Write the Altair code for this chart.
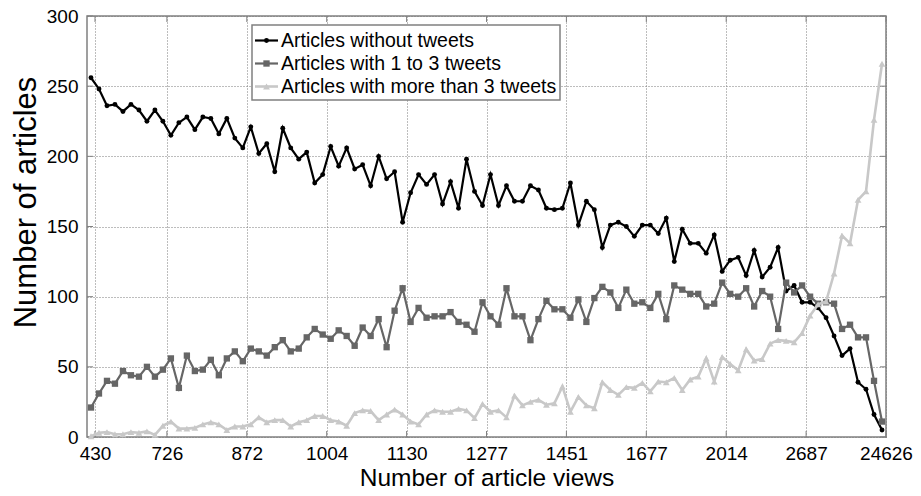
import altair as alt
import pandas as pd

# ---------------- data ----------------
tick_positions = [1, 10, 20, 30, 40, 50, 60, 70, 80, 90, 100]
tick_labels = ["430", "726", "872", "1004", "1130", "1277", "1451", "1677", "2014", "2687", "24626"]
y_ticks = [0, 50, 100, 150, 200, 250, 300]

series_names = [
    "Articles without tweets",
    "Articles with 1 to 3 tweets",
    "Articles with more than 3 tweets",
]

black = [256, 248, 236, 237, 232, 237, 233, 225, 233, 225,
         215, 224, 228, 219, 228, 227, 216, 227, 213, 206,
         221, 202, 209, 189, 220, 206, 198, 203, 181, 187,
         207, 193, 206, 191, 194, 179, 200, 184, 189, 153,
         174, 187, 180, 187, 166, 182, 163, 198, 175, 165,
         187, 165, 179, 168, 168, 179, 176, 163, 162, 163,
         181, 151, 168, 162, 135, 151, 153, 150, 143, 151,
         151, 145, 156, 125, 148, 138, 138, 131, 144, 118,
         126, 128, 115, 133, 114, 121, 135, 104, 108, 96,
         96, 92, 85, 72, 58, 63, 39, 34, 16, 5]

gray = [21, 31, 40, 38, 47, 44, 43, 50, 43, 48,
        56, 35, 58, 47, 48, 55, 44, 56, 61, 54,
        63, 61, 58, 64, 69, 61, 63, 71, 77, 73,
        70, 76, 72, 65, 78, 72, 84, 64, 90, 106,
        82, 92, 85, 86, 86, 89, 82, 80, 75, 96,
        86, 80, 106, 86, 86, 69, 84, 97, 91, 91,
        85, 98, 82, 99, 107, 103, 92, 105, 95, 96,
        92, 102, 84, 108, 105, 102, 102, 93, 95, 110,
        102, 100, 106, 93, 104, 100, 77, 110, 103, 108,
        100, 95, 96, 95, 77, 80, 71, 71, 40, 11]

light = [0.5, 3, 3.5, 2, 2, 3.5, 3, 4, 1.5, 8,
         11, 6, 6, 6.5, 9, 10.5, 9, 5, 7.5, 7.5,
         9, 14, 10.5, 12, 12, 7.5, 10.5, 12, 15, 15,
         12, 11, 8, 17, 19, 18.5, 12, 16, 19.5, 16,
         11, 9, 16, 19, 18, 18, 20, 19, 13.5, 23.5,
         18, 19, 14, 29.5, 22.5, 25, 26.5, 23, 24, 36,
         18, 28.5, 22.5, 20.5, 39, 33.5, 30, 35.5, 35, 38.5,
         32.5, 39.5, 39, 42, 33.5, 41, 43, 56, 39.5, 57,
         52, 47.5, 62.5, 54.5, 55.5, 66.5, 69, 68.5, 67.5, 74,
         86.5, 94.5, 96.5, 116.5, 143.5, 138, 169, 175, 226, 266]

# ---------------- style ----------------
W, H = 799, 421
FONT = "Liberation Sans"
colors = ["#000000", "#666666", "#c8c8c8"]
shapes = ["circle", "square", "triangle-up"]
sizes = [24, 40, 46]
widths = [2.2, 2.2, 2.6]

label_expr = " : ".join(
    f"datum.value == {p} ? '{l}'" for p, l in zip(tick_positions, tick_labels)
) + " : ''"

x_axis = alt.Axis(values=tick_positions, labelExpr=label_expr,
                  title="Number of article views", titleFontSize=24.5,
                  labelPadding=7, labelFlush=False,
                  titleX=W / 2, titleY=48, titleBaseline="alphabetic", titleAlign="center")
y_axis = alt.Axis(values=y_ticks, title="Number of articles", titleFontSize=31,
                  labelPadding=9, titleX=-52, titleY=186,
                  titleBaseline="alphabetic", titleAlign="center")

X = alt.X("pos:Q", scale=alt.Scale(domain=[0, 100], nice=False, zero=False), axis=x_axis)
Y = alt.Y("val:Q", scale=alt.Scale(domain=[0, 300], nice=False), axis=y_axis)

layers = []

# inward ticks
xt = pd.DataFrame({"pos": tick_positions})
yt = pd.DataFrame({"val": y_ticks})
tick_col = "#808080"
layers.append(alt.Chart(xt).mark_rule(color=tick_col, strokeWidth=1).encode(x=X, y=alt.value(H), y2=alt.value(H - 6)))
layers.append(alt.Chart(xt).mark_rule(color=tick_col, strokeWidth=1).encode(x=X, y=alt.value(0), y2=alt.value(6)))
layers.append(alt.Chart(yt).mark_rule(color=tick_col, strokeWidth=1).encode(y=Y, x=alt.value(0), x2=alt.value(6)))
layers.append(alt.Chart(yt).mark_rule(color=tick_col, strokeWidth=1).encode(y=Y, x=alt.value(W), x2=alt.value(W - 6)))

# series
for vals, c, s, sz, w in zip([black, gray, light], colors, shapes, sizes, widths):
    df = pd.DataFrame({"pos": [i + 0.5 for i in range(len(vals))], "val": vals})
    layers.append(alt.Chart(df).mark_line(color=c, strokeWidth=w).encode(x=X, y=Y))
    layers.append(alt.Chart(df).mark_point(shape=s, size=sz, filled=True, color=c, opacity=1).encode(x=X, y=Y))

# legend (manual)
one = pd.DataFrame({"a": [0]})
layers.append(alt.Chart(one).mark_rect(fill="white", stroke="#808080", strokeWidth=1.5).encode(
    x=alt.value(165), x2=alt.value(473), y=alt.value(9), y2=alt.value(84)))
row_y = [24.5, 47.5, 70.5]
for name, c, s, sz, w, ry in zip(series_names, colors, shapes, sizes, widths, row_y):
    layers.append(alt.Chart(one).mark_rule(color=c, strokeWidth=w).encode(
        x=alt.value(168), x2=alt.value(191), y=alt.value(ry)))
    layers.append(alt.Chart(one).mark_point(shape=s, size=sz, filled=True, color=c, opacity=1).encode(
        x=alt.value(179.5), y=alt.value(ry)))
    layers.append(alt.Chart(one).mark_text(text=name, align="left", baseline="middle",
                                           font=FONT, fontSize=19.5, color="#000").encode(
        x=alt.value(194), y=alt.value(ry)))

chart = alt.layer(*layers).properties(
    width=W, height=H,
    autosize=alt.AutoSizeParams(type="none"),
    padding={"left": 79, "top": 8, "right": 27, "bottom": 51},
).configure_view(
    stroke="#808080", strokeWidth=1.5
).configure_axis(
    grid=True, gridColor="#7a7a7a", gridDash=[1, 2], gridWidth=1,
    domain=False, ticks=False,
    labelFont=FONT, labelFontSize=19, labelColor="#000",
    titleFont=FONT, titleColor="#000", titleFontWeight="normal",
)

chart.save("out.html", embed_options={"renderer": "svg", "actions": False})
